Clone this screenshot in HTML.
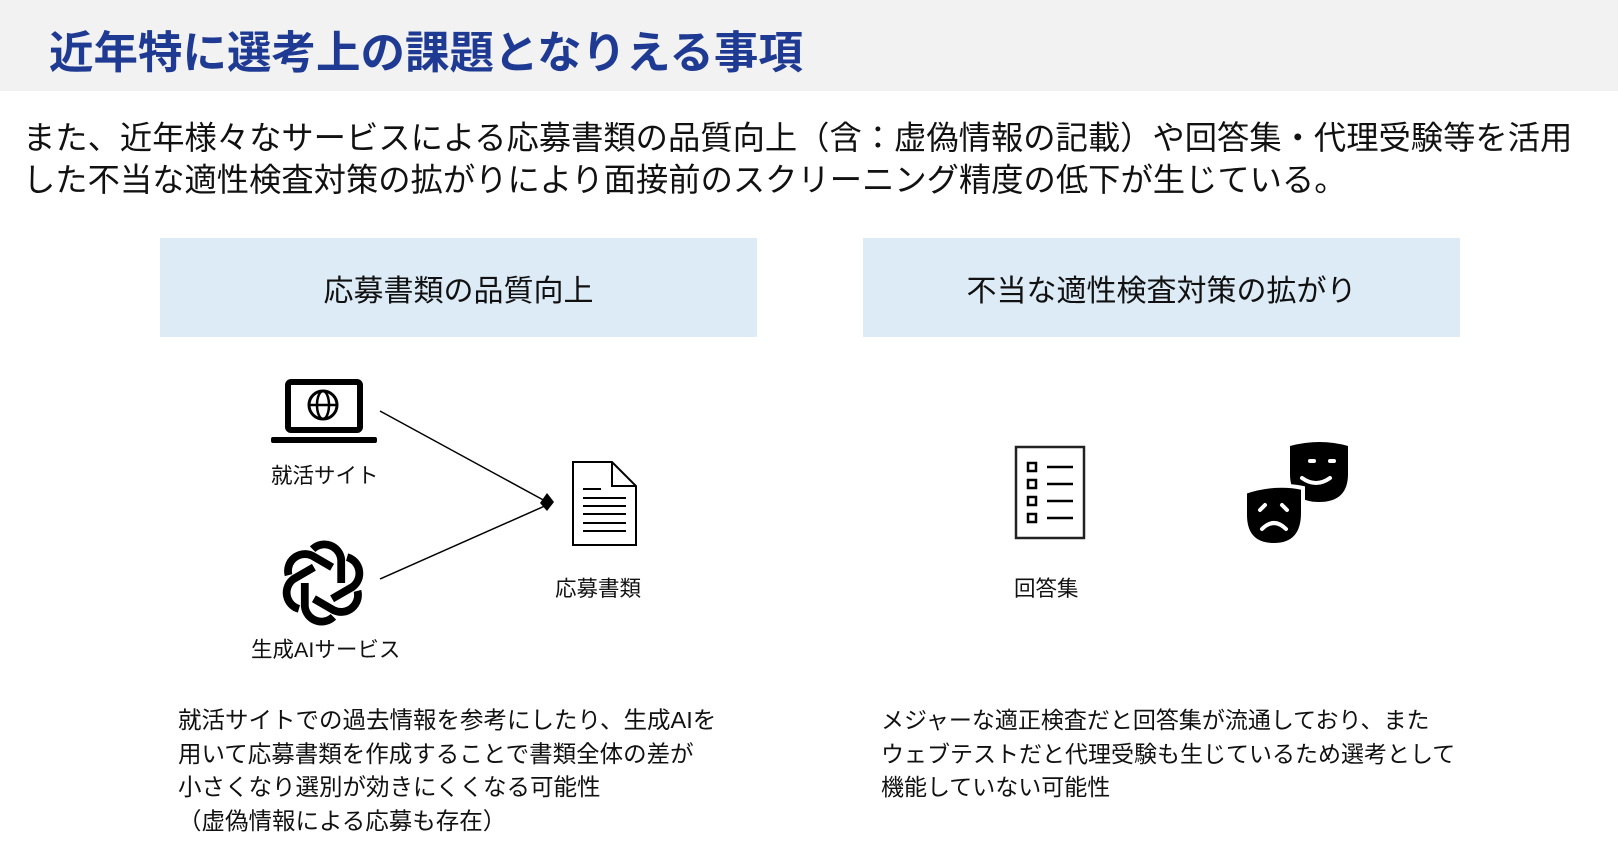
<!DOCTYPE html>
<html><head><meta charset="utf-8"><style>
body{margin:0;width:1618px;height:844px;background:#fff;position:relative;overflow:hidden;font-family:"Liberation Sans","Noto Sans CJK JP",sans-serif;color:#111}
.a{position:absolute;white-space:nowrap}
.hdr{position:absolute;left:0;top:0;width:1618px;height:91px;background:#f2f2f2}
.box{position:absolute;top:238px;height:99px;background:#ddebf7;display:flex;align-items:center;justify-content:center;font-size:30px}
.lbl{font-size:21.5px}
.p{font-size:23.5px;line-height:33.5px}
</style></head><body>
<div class="hdr"></div>
<div class="a" style="left:49px;top:16px;font-size:44.5px;color:#1f3a93;font-weight:bold">近年特に選考上の課題となりえる事項</div>
<div class="a" style="left:23px;top:117px;font-size:32.3px;line-height:42px">また、近年様々なサービスによる応募書類の品質向上（含：虚偽情報の記載）や回答集・代理受験等を活用<br>した不当な適性検査対策の拡がりにより面接前のスクリーニング精度の低下が生じている。</div>
<div class="box" style="left:160px;width:597px">応募書類の品質向上</div>
<div class="box" style="left:863px;width:597px">不当な適性検査対策の拡がり</div>
<svg class="a" style="left:0;top:0" width="1618" height="844">
<rect x="288" y="382" width="72" height="48" rx="3" fill="none" stroke="#000" stroke-width="6"/>
<rect x="271" y="437" width="106" height="6" rx="2" fill="#000"/>
<circle cx="323" cy="405" r="14" fill="none" stroke="#000" stroke-width="3"/>
<ellipse cx="323" cy="405" rx="6" ry="14" fill="none" stroke="#000" stroke-width="2.5"/>
<line x1="309" y1="405" x2="337" y2="405" stroke="#000" stroke-width="2.5"/>
<g fill="none" stroke="#000" stroke-width="6" transform="translate(323,583) scale(1.3)">
<g id="k"><path d="M-8,-26 a13,13 0 0 1 22,8 v18"/></g>
<use href="#k" transform="rotate(60)"/><use href="#k" transform="rotate(120)"/><use href="#k" transform="rotate(180)"/><use href="#k" transform="rotate(240)"/><use href="#k" transform="rotate(300)"/>
</g>
<line x1="380" y1="411" x2="547" y2="502" stroke="#000" stroke-width="1.5"/>
<line x1="380" y1="579" x2="547" y2="505" stroke="#000" stroke-width="1.5"/>
<path d="M540,503 L547,493 L554,502 L547,511 Z" fill="#000"/>
<path d="M573,462 H612 L636,486 V545 H573 Z M612,462 V486 H636" fill="none" stroke="#000" stroke-width="2"/>
<g stroke="#000" stroke-width="2"><line x1="583" y1="489" x2="601" y2="489"/><line x1="583" y1="498" x2="626" y2="498"/><line x1="583" y1="506" x2="626" y2="506"/><line x1="583" y1="514" x2="626" y2="514"/><line x1="583" y1="523" x2="626" y2="523"/><line x1="583" y1="531" x2="626" y2="531"/></g>
<rect x="1016" y="447" width="68" height="91" fill="none" stroke="#222" stroke-width="2.5"/>
<g fill="none" stroke="#000" stroke-width="2.5">
<rect x="1028" y="463" width="8" height="8"/><rect x="1028" y="480" width="8" height="8"/><rect x="1028" y="497" width="8" height="8"/><rect x="1028" y="514" width="8" height="8"/>
<line x1="1073" y1="467" x2="1047" y2="467"/><line x1="1073" y1="484" x2="1047" y2="484"/><line x1="1073" y1="501" x2="1047" y2="501"/><line x1="1073" y1="518" x2="1047" y2="518"/></g>
<path d="M1290,446 q30,-8 58,0 v28 q0,28 -29,28 q-29,0 -29,-28 z" fill="#000"/>
<path d="M1302,478 q14,10 28,0" fill="none" stroke="#fff" stroke-width="4" stroke-linecap="round"/>
<line x1="1310" y1="461" x2="1314" y2="461" stroke="#fff" stroke-width="4" stroke-linecap="round"/>
<line x1="1330" y1="461" x2="1334" y2="461" stroke="#fff" stroke-width="4" stroke-linecap="round"/>
<path d="M1245,492 q30,-10 58,-4 v25 q0,32 -29,32 q-29,0 -29,-30 z" fill="#000" stroke="#fff" stroke-width="4"/>
<path d="M1262,529 q12,-12 24,0" fill="none" stroke="#fff" stroke-width="4" stroke-linecap="round"/>
<line x1="1260" y1="510" x2="1265" y2="505" stroke="#fff" stroke-width="4" stroke-linecap="round"/>
<line x1="1282" y1="505" x2="1287" y2="510" stroke="#fff" stroke-width="4" stroke-linecap="round"/>
</svg>
<div class="a lbl" style="left:271px;top:459px">就活サイト</div>
<div class="a lbl" style="left:251px;top:633px">生成AIサービス</div>
<div class="a lbl" style="left:555px;top:572px">応募書類</div>
<div class="a lbl" style="left:1014px;top:572px">回答集</div>
<div class="a p" style="left:178px;top:704px">就活サイトでの過去情報を参考にしたり、生成AIを<br>用いて応募書類を作成することで書類全体の差が<br>小さくなり選別が効きにくくなる可能性<br>（虚偽情報による応募も存在）</div>
<div class="a p" style="left:881px;top:704px;font-size:23px">メジャーな適正検査だと回答集が流通しており、また<br>ウェブテストだと代理受験も生じているため選考として<br>機能していない可能性</div>
</body></html>
